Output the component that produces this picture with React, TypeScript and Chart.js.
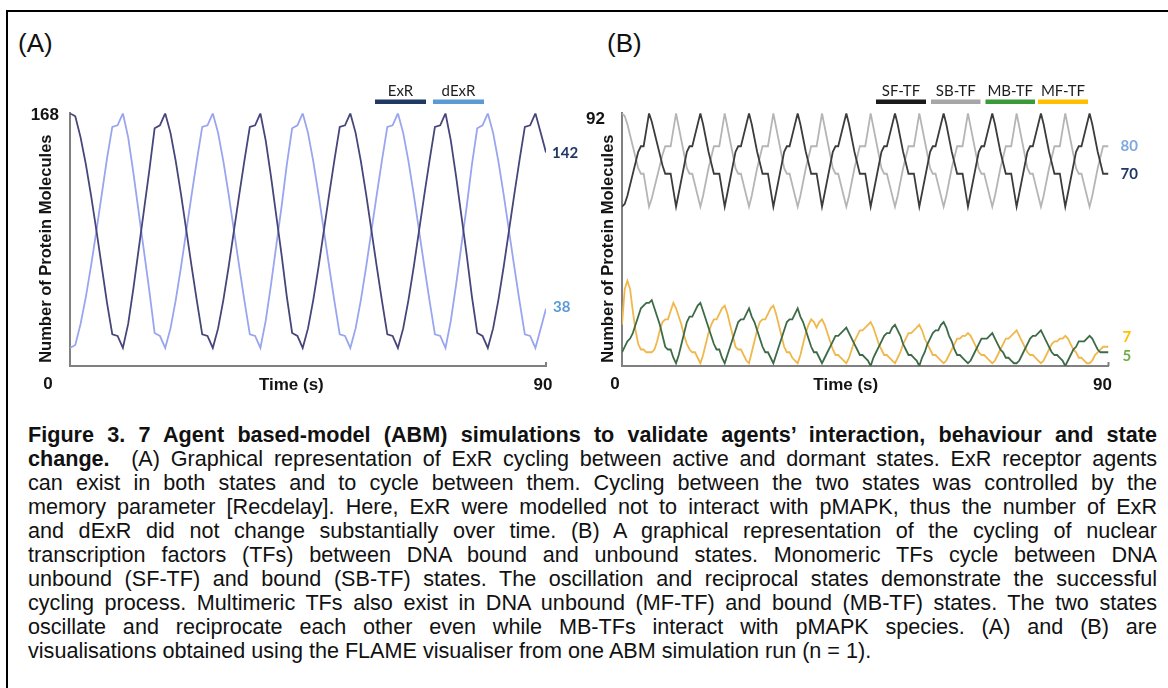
import React, { useEffect, useRef } from "react";
import { Chart, registerables } from "chart.js";

Chart.register(...registerables);

// ---------------- data ----------------
const T_MAX = 90;
const STEP_A = 1; // seconds between samples, panel A
const STEP_B = 0.5; // seconds between samples, panel B

// Panel A (t = 0..90 s, 1 s)
const exrValues = [
  168, 166, 152, 134, 113, 90, 66, 42, 21, 20, 12,
  28, 52, 78, 104, 130, 158, 160, 168,
  155, 136, 114, 90, 66, 43, 21, 20, 12,
  25, 44, 66, 90, 114, 137, 159, 160, 168,
  150, 126, 100, 74, 46, 22, 20, 12,
  25, 44, 66, 90, 114, 137, 159, 160, 168,
  155, 136, 114, 90, 66, 43, 21, 20, 12,
  25, 44, 66, 90, 114, 137, 159, 160, 168,
  150, 126, 100, 74, 46, 22, 20, 12,
  25, 44, 66, 90, 114, 137, 159, 160, 168,
  155, 142,
];
const dexrValues = [
  12, 14, 28, 46, 67, 90, 114, 138, 159, 160, 168,
  152, 128, 102, 76, 50, 22, 20, 12,
  25, 44, 66, 90, 114, 137, 159, 160, 168,
  155, 136, 114, 90, 66, 43, 21, 20, 12,
  30, 54, 80, 106, 134, 158, 160, 168,
  155, 136, 114, 90, 66, 43, 21, 20, 12,
  25, 44, 66, 90, 114, 137, 159, 160, 168,
  155, 136, 114, 90, 66, 43, 21, 20, 12,
  30, 54, 80, 106, 134, 158, 160, 168,
  155, 136, 114, 90, 66, 43, 21, 20, 12,
  25, 38,
];

// Panel B (t = 0..90 s, 0.5 s)
const sfTfValues = [
  58, 59, 62, 66, 70, 74, 78, 80, 80, 86, 92, 89, 85, 81, 77, 73, 70, 70, 70, 64, 58,
  63, 68, 73, 78, 80, 80, 84, 88, 92,
  88, 83, 78, 74, 70, 70, 70, 64, 58,
  63, 68, 73, 78, 80, 80, 84, 88, 92,
  88, 83, 78, 74, 70, 70, 70, 64, 58,
  63, 68, 73, 78, 80, 80, 84, 88, 92,
  88, 83, 78, 74, 70, 70, 70, 64, 58,
  63, 68, 73, 78, 80, 80, 84, 88, 92,
  88, 83, 78, 74, 70, 70, 70, 64, 58,
  63, 68, 73, 78, 80, 80, 84, 88, 92,
  88, 83, 78, 74, 70, 70, 70, 64, 58,
  63, 68, 73, 78, 80, 80, 84, 88, 92,
  88, 83, 78, 74, 70, 70, 70, 64, 58,
  63, 68, 73, 78, 80, 80, 84, 88, 92,
  88, 83, 78, 74, 70, 70, 70, 64, 58,
  63, 68, 73, 78, 80, 80, 84, 88, 92,
  88, 83, 78, 74, 70, 70, 70, 64, 58,
  63, 68, 73, 78, 80, 80, 84, 88, 92,
  88, 83, 78, 74, 70, 70, 70,
];
const sbTfValues = [
  92, 91, 88, 84, 80, 76, 72, 70, 70, 64, 58, 61, 65, 69, 73, 77, 80, 80, 80, 86, 92,
  87, 82, 77, 72, 70, 70, 66, 62, 58,
  62, 67, 72, 76, 80, 80, 80, 86, 92,
  87, 82, 77, 72, 70, 70, 66, 62, 58,
  62, 67, 72, 76, 80, 80, 80, 86, 92,
  87, 82, 77, 72, 70, 70, 66, 62, 58,
  62, 67, 72, 76, 80, 80, 80, 86, 92,
  87, 82, 77, 72, 70, 70, 66, 62, 58,
  62, 67, 72, 76, 80, 80, 80, 86, 92,
  87, 82, 77, 72, 70, 70, 66, 62, 58,
  62, 67, 72, 76, 80, 80, 80, 86, 92,
  87, 82, 77, 72, 70, 70, 66, 62, 58,
  62, 67, 72, 76, 80, 80, 80, 86, 92,
  87, 82, 77, 72, 70, 70, 66, 62, 58,
  62, 67, 72, 76, 80, 80, 80, 86, 92,
  87, 82, 77, 72, 70, 70, 66, 62, 58,
  62, 67, 72, 76, 80, 80, 80, 86, 92,
  87, 82, 77, 72, 70, 70, 66, 62, 58,
  62, 67, 72, 76, 80, 80, 80,
];
const mbTfValues = [
  5, 7, 9, 10, 12, 15, 18, 21, 22, 23, 23, 24, 21, 18, 15, 11, 7, 6, 6, 3, 1,
  4, 8, 12, 16, 18, 18, 20, 22, 23,
  20, 17, 14, 11, 8, 6, 6, 3, 1,
  4, 7, 10, 13, 16, 17, 17, 19, 21,
  18, 16, 13, 10, 7, 5, 5, 3, 1,
  4, 7, 10, 13, 16, 17, 17, 19, 21,
  18, 16, 13, 10, 7, 5, 5, 3, 1,
  3, 5, 7, 9, 11, 11, 12, 13, 14,
  12, 10, 8, 6, 4, 4, 3, 2, 0,
  3, 5, 7, 9, 11, 12, 12, 14, 15,
  13, 11, 8, 6, 4, 4, 3, 2, 0,
  3, 5, 8, 10, 12, 13, 13, 15, 16,
  14, 11, 9, 6, 4, 4, 3, 2, 1,
  2, 4, 6, 8, 10, 10, 10, 11, 12,
  10, 8, 6, 5, 3, 3, 2, 1, 1,
  2, 4, 6, 8, 10, 11, 11, 12, 13,
  11, 9, 7, 5, 4, 4, 3, 2, 0,
  2, 4, 6, 7, 9, 9, 9, 10, 11,
  10, 8, 6, 5, 5, 5, 5,
];
const mfTfValues = [
  15, 28, 31, 28, 20, 13, 8, 6, 6, 5, 5, 5, 6, 9, 13, 16, 17, 17, 20, 23, 21,
  18, 15, 11, 8, 6, 5, 5, 3, 1,
  4, 8, 12, 15, 17, 17, 19, 21, 22,
  19, 15, 11, 7, 6, 6, 4, 2, 1,
  5, 9, 13, 16, 17, 17, 19, 21, 22,
  19, 15, 11, 7, 5, 5, 3, 2, 1,
  4, 8, 12, 15, 17, 16, 14, 16, 17,
  15, 12, 9, 6, 4, 4, 3, 2, 1,
  3, 6, 9, 11, 13, 13, 14, 15, 16,
  14, 11, 8, 6, 4, 4, 3, 2, 1,
  3, 5, 8, 10, 12, 12, 13, 14, 15,
  13, 10, 8, 6, 4, 4, 3, 2, 1,
  2, 4, 6, 8, 10, 10, 11, 11, 12,
  11, 9, 7, 5, 4, 4, 3, 2, 1,
  2, 4, 6, 8, 10, 10, 11, 12, 13,
  11, 9, 7, 5, 4, 4, 3, 2, 1,
  2, 4, 6, 8, 9, 9, 10, 10, 11,
  10, 8, 6, 5, 3, 3, 2, 1, 1,
  2, 4, 5, 6, 7, 7, 7,
];

const legendA = ["ExR", "dExR"];
const legendB = ["SF-TF", "SB-TF", "MB-TF", "MF-TF"];
const endLabelsA = ["142", "38"];
const endLabelsB = ["80", "70", "7", "5"];
const yMaxA = 168;
const yMaxB = 92;
const xTickLabels = ["0", "90"];
const xTitle = "Time (s)";
const yTitle = "Number of Protein Molecules";

const captionLines = [
  { b: "Figure 3. 7 Agent based-model (ABM) simulations to validate agents\u2019 interaction, behaviour and state", t: "" },
  { b: "change.", t: "\u00a0 (A) Graphical representation of ExR cycling between active and dormant states. ExR receptor agents" },
  { b: "", t: "can exist in both states and to cycle between them. Cycling between the two states was controlled by the" },
  { b: "", t: "memory parameter [Recdelay]. Here, ExR were modelled not to interact with pMAPK, thus the number of ExR" },
  { b: "", t: "and dExR did not change substantially over time. (B) A graphical representation of the cycling of nuclear" },
  { b: "", t: "transcription factors (TFs) between DNA bound and unbound states. Monomeric TFs cycle between DNA" },
  { b: "", t: "unbound (SF-TF) and bound (SB-TF) states. The oscillation and reciprocal states demonstrate the successful" },
  { b: "", t: "cycling process. Multimeric TFs also exist in DNA unbound (MF-TF) and bound (MB-TF) states. The two states" },
  { b: "", t: "oscillate and reciprocate each other even while MB-TFs interact with pMAPK species. (A) and (B) are" },
  { b: "", t: "visualisations obtained using the FLAME visualiser from one ABM simulation run (n = 1)." },
];

// ---------------- styles ----------------
const W = 1168;
const CH = 420;
const AXIS = "#808080";
const INK = "#141414";
const TICK_FONT = "bold 17px 'Liberation Sans', Arial, sans-serif";
const YTITLE_FONT = "bold 16.5px 'Liberation Sans', Arial, sans-serif";
const LEGEND_FONT = "15px Lato, 'Liberation Sans', sans-serif";
const END_FONT = "bold 15px Lato, 'Liberation Sans', sans-serif";

const toPoints = (vals: number[], step: number) => vals.map((v, i) => ({ x: i * step, y: v }));

function txt(ctx: CanvasRenderingContext2D, s: string, x: number, y: number, font: string, color: string, align: CanvasTextAlign = "center", rot = 0) {
  ctx.save();
  ctx.font = font;
  ctx.fillStyle = color;
  ctx.textAlign = align;
  ctx.textBaseline = "middle";
  ctx.translate(x, y);
  if (rot) ctx.rotate(rot);
  ctx.fillText(s, 0, 0);
  ctx.restore();
}

function axisDecor(chart: any, cfg: any) {
  const ctx: CanvasRenderingContext2D = chart.ctx;
  const a = chart.chartArea;
  const xs = chart.scales.x;
  const ys = chart.scales.y;
  const x0 = xs.getPixelForValue(0);
  const x90 = xs.getPixelForValue(T_MAX);
  ctx.save();
  ctx.strokeStyle = AXIS;
  ctx.lineWidth = 2;
  ctx.beginPath();
  ctx.moveTo(x90, a.bottom);
  ctx.lineTo(x90, a.bottom - 4);
  ctx.stroke();
  ctx.restore();
  txt(ctx, String(cfg.yMax), a.left - cfg.yTickGap, ys.getPixelForValue(cfg.yMax) + cfg.yTickDy, TICK_FONT, INK, "right");
  txt(ctx, xTickLabels[0], x0 + cfg.zeroDx, a.bottom + 18, TICK_FONT, INK);
  txt(ctx, xTickLabels[1], x90 + cfg.ninetyDx, a.bottom + 19, TICK_FONT, INK);
  txt(ctx, xTitle, a.left + (a.right - a.left) * cfg.titleFrac, a.bottom + 19, TICK_FONT, INK);
  txt(ctx, yTitle, a.left + cfg.yTitleDx, (a.top + a.bottom) / 2 + 9, YTITLE_FONT, INK, "center", -Math.PI / 2);
  cfg.legend.forEach((it: any) => {
    ctx.save();
    ctx.fillStyle = it.color;
    ctx.fillRect(it.x0, 99.5, it.x1 - it.x0, 4.5);
    ctx.restore();
    txt(ctx, it.label, (it.x0 + it.x1) / 2, 91, LEGEND_FONT, "#1e1e1e");
  });
  cfg.ends.forEach((e: any) => {
    txt(ctx, e.label, x90 + e.dx, ys.getPixelForValue(e.v) + e.dy, END_FONT, e.color, "left");
  });
}

function buildA(canvas: HTMLCanvasElement) {
  const cfg = {
    yMax: yMaxA,
    yTickGap: 11,
    yTickDy: 2,
    zeroDx: -22,
    ninetyDx: -3,
    titleFrac: 0.465,
    yTitleDx: -24,
    legend: [
      { label: legendA[0], x0: 375, x1: 426, color: "#1f3864" },
      { label: legendA[1], x0: 433, x1: 484, color: "#5b9bd5" },
    ],
    ends: [
      { label: endLabelsA[0], v: 142, dx: 6, dy: 1, color: "#1f3864" },
      { label: endLabelsA[1], v: 38, dx: 7, dy: -2, color: "#5b9bd5" },
    ],
  };
  return new Chart(canvas, {
    type: "line",
    data: {
      datasets: [
        { label: legendA[0], data: toPoints(exrValues, STEP_A), borderColor: "#46467a", borderWidth: 1.8 },
        { label: legendA[1], data: toPoints(dexrValues, STEP_A), borderColor: "#99a5ee", borderWidth: 1.8 },
      ],
    },
    options: {
      responsive: false,
      animation: false,
      events: [],
      layout: { padding: { left: 70, right: W - 546, top: 113.3, bottom: CH - 366 } },
      elements: { point: { radius: 0 }, line: { tension: 0 } },
      plugins: { legend: { display: false }, tooltip: { enabled: false } },
      scales: {
        x: { type: "linear", min: 0, max: T_MAX, ticks: { display: false }, grid: { display: false, drawTicks: false }, border: { display: true, color: AXIS, width: 2 } },
        y: { type: "linear", min: 0, max: yMaxA, ticks: { display: false }, grid: { display: false, drawTicks: false }, border: { display: true, color: AXIS, width: 2 } },
      },
    },
    plugins: [{ id: "decorA", afterDraw: (chart: any) => axisDecor(chart, cfg) }],
  } as any);
}

function buildB(canvas: HTMLCanvasElement) {
  const cfg = {
    yMax: yMaxB,
    yTickGap: 17,
    yTickDy: 6,
    zeroDx: -7,
    ninetyDx: -6,
    titleFrac: 0.46,
    yTitleDx: -13.5,
    legend: [
      { label: legendB[0], x0: 876, x1: 926, color: "#1a1a1a" },
      { label: legendB[1], x0: 931, x1: 980.5, color: "#a6a6a6" },
      { label: legendB[2], x0: 985.5, x1: 1035, color: "#3a9a3a" },
      { label: legendB[3], x0: 1038, x1: 1088, color: "#ffc000" },
    ],
    ends: [
      { label: endLabelsB[0], v: 80, dx: 12, dy: 0, color: "#7fa9dd" },
      { label: endLabelsB[1], v: 70, dx: 12, dy: 0, color: "#1f3864" },
      { label: endLabelsB[2], v: 7, dx: 14, dy: -10, color: "#ffc000" },
      { label: endLabelsB[3], v: 5, dx: 14, dy: 4, color: "#70ad47" },
    ],
  };
  return new Chart(canvas, {
    type: "line",
    data: {
      datasets: [
        { label: legendB[0], data: toPoints(sfTfValues, STEP_B), borderColor: "#3c3c3c", borderWidth: 1.8 },
        { label: legendB[1], data: toPoints(sbTfValues, STEP_B), borderColor: "#b5b5b5", borderWidth: 1.8 },
        { label: legendB[2], data: toPoints(mbTfValues, STEP_B), borderColor: "#3d6b47", borderWidth: 1.8 },
        { label: legendB[3], data: toPoints(mfTfValues, STEP_B), borderColor: "#f0b84c", borderWidth: 1.8 },
      ],
    },
    options: {
      responsive: false,
      animation: false,
      events: [],
      layout: { padding: { left: 622, right: W - 1108.5, top: 113.3, bottom: CH - 366 } },
      elements: { point: { radius: 0 }, line: { tension: 0 } },
      plugins: { legend: { display: false }, tooltip: { enabled: false } },
      scales: {
        x: { type: "linear", min: 0, max: T_MAX, ticks: { display: false }, grid: { display: false, drawTicks: false }, border: { display: true, color: AXIS, width: 2 } },
        y: { type: "linear", min: 0, max: yMaxB, ticks: { display: false }, grid: { display: false, drawTicks: false }, border: { display: true, color: AXIS, width: 2 } },
      },
    },
    plugins: [{ id: "decorB", afterDraw: (chart: any) => axisDecor(chart, cfg) }],
  } as any);
}

function ChartCanvas({ build }: { build: (c: HTMLCanvasElement) => Chart }) {
  const ref = useRef<HTMLCanvasElement>(null);
  useEffect(() => {
    const ch = build(ref.current as HTMLCanvasElement);
    return () => ch.destroy();
  }, []);
  return (
    <canvas
      ref={ref}
      width={W}
      height={CH}
      style={{ position: "absolute", left: 0, top: 0, width: W, height: CH }}
    />
  );
}

export default function App() {
  return (
    <div style={{ position: "absolute", left: 0, top: 0, width: W, height: 688, overflow: "hidden", background: "#fff", fontFamily: "'Liberation Sans', Arial, sans-serif" }}>
      <div style={{ position: "absolute", left: 6, top: 10, width: 1300, height: 800, borderLeft: "2px solid #000", borderTop: "2px solid #000" }} />
      <div style={{ position: "absolute", left: 18, top: 28, fontSize: 26, lineHeight: "30px", color: "#111" }}>(A)</div>
      <div style={{ position: "absolute", left: 607, top: 28, fontSize: 26, lineHeight: "30px", color: "#111" }}>(B)</div>
      <ChartCanvas build={buildA} />
      <ChartCanvas build={buildB} />
      <div style={{ position: "absolute", left: 28, top: 423, width: 1129, fontSize: 21.6, lineHeight: "24px", color: "#111" }}>
        {captionLines.map((l, i) => {
          const last = i === captionLines.length - 1;
          return (
            <div key={i} style={{ whiteSpace: "nowrap", textAlign: last ? "left" : "justify", textAlignLast: last ? "left" : "justify" } as any}>
              {l.b ? <b>{l.b}</b> : null}
              {l.t}
            </div>
          );
        })}
      </div>
    </div>
  );
}
